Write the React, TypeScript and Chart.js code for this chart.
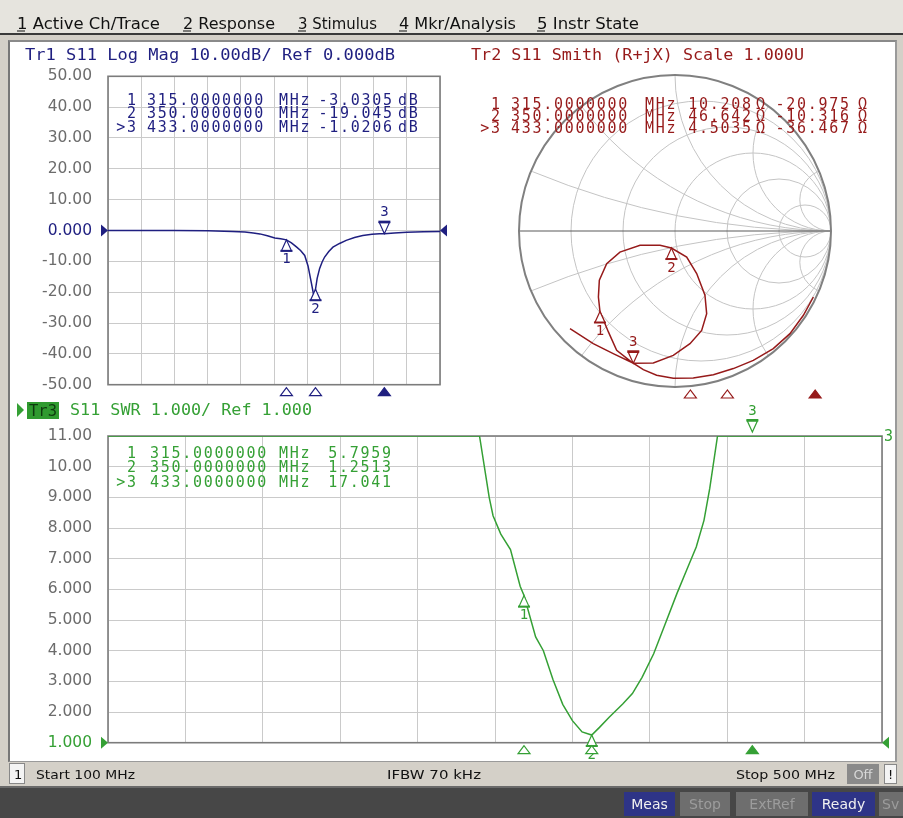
import React, { useEffect, useRef } from "react";
import { Chart, registerables } from "chart.js";

Chart.register(...registerables);

// ---------------- data ----------------
const menuItems = ["1 Active Ch/Trace", "2 Response", "3 Stimulus", "4 Mkr/Analysis", "5 Instr State"];
const markerNames = ["1", "2", ">3"];
const markerFreqs = [315, 350, 433];
const logMagMarkerValues = [-3.0305, -19.045, -1.0206];
const swrMarkerValues = [5.7959, 1.2513, 17.041];
const smithMarkerR = [10.208, 46.642, 4.5035];
const smithMarkerX = [-20.975, -10.316, -36.467];

const logMagTickLabels = ["50.00", "40.00", "30.00", "20.00", "10.00", "0.000", "-10.00", "-20.00", "-30.00", "-40.00", "-50.00"];
const swrTickLabels = ["11.00", "10.00", "9.000", "8.000", "7.000", "6.000", "5.000", "4.000", "3.000", "2.000", "1.000"];

const logMagFreqs = [100, 140, 180, 220, 250, 265, 275, 283, 292, 301, 308, 315, 321, 327, 332, 337, 341, 345, 347.5, 349, 350, 352, 355, 358, 361, 366, 371, 379, 387, 397, 407, 418, 427, 433, 445, 460, 480, 500];
const logMagValues = [0, 0, 0, -0.1, -0.3, -0.5, -0.8, -1.1, -1.7, -2.4, -2.7, -3.03, -4.0, -5.3, -6.5, -8.1, -11.5, -17.0, -20.5, -21.5, -19.05, -15.5, -12.3, -10.2, -8.6, -6.8, -5.4, -4.2, -3.2, -2.3, -1.6, -1.2, -1.05, -1.02, -0.8, -0.6, -0.4, -0.3];

const swrFreqs = [100, 150, 200, 250, 292, 297, 299, 303, 308, 313, 315, 321, 325, 330, 335, 340, 345, 350, 354, 359, 366, 371, 376, 382, 388, 394, 399, 404, 408, 411, 415, 433, 460, 500];
const swrValues = [11, 11, 11, 11, 11, 9.0, 8.4, 7.8, 7.3, 6.1, 5.8, 4.45, 4.0, 3.05, 2.25, 1.72, 1.35, 1.25, 1.5, 1.83, 2.26, 2.6, 3.13, 3.9, 4.88, 5.86, 6.62, 7.38, 8.25, 9.3, 11, 11, 11, 11];

// reflection coefficient (real, imag) of the Smith trace, in sweep order
const smithRe = [0.887, 0.823, 0.737, 0.63, 0.502, 0.374, 0.246, 0.117, -0.011, -0.118, -0.203, -0.278, -0.374, -0.427, -0.481, -0.491, -0.485, -0.438, -0.353, -0.224, -0.096, -0.023, 0.075, 0.139, 0.192, 0.203, 0.171, 0.096, -0.011, -0.139, -0.267, -0.396, -0.524, -0.673];
const smithIm = [-0.423, -0.54, -0.658, -0.754, -0.829, -0.882, -0.921, -0.942, -0.944, -0.925, -0.889, -0.84, -0.765, -0.647, -0.516, -0.423, -0.316, -0.209, -0.135, -0.092, -0.092, -0.109, -0.167, -0.273, -0.412, -0.53, -0.637, -0.722, -0.797, -0.846, -0.848, -0.786, -0.722, -0.626];

const smithResistances = [0.2, 0.5, 1, 2, 5];
const smithReactances = [0.2, 0.5, 1, 2, 5];

// ---------------- styles ----------------
const BLUE = "#1f1f80";
const RED = "#961a1a";
const GREEN = "#35a035";
const GRID = "#cacaca";
const FRAME = "#7c7c7c";
const TICK = "#6c6c6c";
const MONO = '"DejaVu Sans Mono", monospace';
const ACTIVE = 2;

function gammaOf(R: number, X: number) {
  const zr = R / 50, zi = X / 50;
  const nr = zr - 1, ni = zi, dr = zr + 1, di = zi;
  const den = dr * dr + di * di;
  return { u: (nr * dr + ni * di) / den, v: (ni * dr - nr * di) / den };
}

function tri(ctx: CanvasRenderingContext2D, x: number, y: number, up: boolean, w: number, h: number, filled: boolean, color: string) {
  ctx.beginPath();
  ctx.moveTo(x, y);
  ctx.lineTo(x - w, y + (up ? h : -h));
  ctx.lineTo(x + w, y + (up ? h : -h));
  ctx.closePath();
  ctx.fillStyle = filled ? color : "#fff";
  ctx.fill();
  ctx.strokeStyle = color;
  ctx.lineWidth = 1.2;
  ctx.stroke();
}

const framePlugin = {
  id: "frame",
  beforeDatasetsDraw(chart: any) {
    const { ctx, chartArea: a } = chart;
    ctx.save();
    ctx.strokeStyle = FRAME;
    ctx.lineWidth = 1.6;
    ctx.strokeRect(a.left, a.top, a.right - a.left, a.bottom - a.top);
    ctx.restore();
  },
};

const markerPlugin = {
  id: "vnaMarkers",
  afterDatasetsDraw(chart: any, _args: any, o: any) {
    const { ctx, chartArea: a, scales } = chart;
    ctx.save();
    ctx.font = "14px " + MONO;
    ctx.textAlign = "center";
    ctx.textBaseline = "middle";
    const ymin = scales.y.min, ymax = scales.y.max;
    o.points.forEach((p: any, i: number) => {
      const px = scales.x.getPixelForValue(p.x);
      const off = p.y > ymax ? -4 : 0;
      const py = scales.y.getPixelForValue(Math.max(ymin, Math.min(ymax, p.y))) + off;
      const active = i === ACTIVE;
      const label = String(i + 1);
      if (active) {
        tri(ctx, px, py, false, 5, 11, false, o.color);
        ctx.fillStyle = o.color;
        ctx.fillRect(px - 6, py - 13, 12, 2.5);
        ctx.fillText(label, px, py - 21);
      } else {
        tri(ctx, px, py, true, 5, 11, false, o.color);
        ctx.fillStyle = o.color;
        ctx.fillRect(px - 6, py + 10, 12, 2);
        ctx.fillText(label, px, py + 20);
      }
      const sx = o.stimX ? o.stimX(chart, p.f) : scales.x.getPixelForValue(p.f);
      tri(ctx, sx, a.bottom + 3, true, 6, 8, active, o.color);
    });
    if (o.refValue !== undefined) {
      const ry = scales.y.getPixelForValue(o.refValue);
      ctx.fillStyle = o.color;
      ctx.beginPath();
      ctx.moveTo(a.left - 7, ry - 6);
      ctx.lineTo(a.left, ry);
      ctx.lineTo(a.left - 7, ry + 6);
      ctx.closePath();
      ctx.fill();
      ctx.beginPath();
      ctx.moveTo(a.right + 7, ry - 6);
      ctx.lineTo(a.right, ry);
      ctx.lineTo(a.right + 7, ry + 6);
      ctx.closePath();
      ctx.fill();
    }
    ctx.restore();
  },
};

const smithGridPlugin = {
  id: "smithGrid",
  beforeDatasetsDraw(chart: any) {
    const { ctx, scales } = chart;
    const X = (u: number) => scales.x.getPixelForValue(u);
    const Y = (v: number) => scales.y.getPixelForValue(v);
    const cx = X(0), cy = Y(0);
    const R = X(1) - cx;
    ctx.save();
    ctx.beginPath();
    ctx.arc(cx, cy, R, 0, Math.PI * 2);
    ctx.clip();
    ctx.strokeStyle = "#c4c4c4";
    ctx.lineWidth = 1;
    smithResistances.forEach((r) => {
      ctx.beginPath();
      ctx.arc(X(r / (r + 1)), cy, R / (r + 1), 0, Math.PI * 2);
      ctx.stroke();
    });
    smithReactances.forEach((xv) => {
      [xv, -xv].forEach((s) => {
        ctx.beginPath();
        ctx.arc(X(1), Y(1 / s), R / Math.abs(s), 0, Math.PI * 2);
        ctx.stroke();
      });
    });
    ctx.restore();
    ctx.save();
    ctx.strokeStyle = "#5a5a5a";
    ctx.lineWidth = 1.2;
    ctx.beginPath();
    ctx.moveTo(cx - R, cy);
    ctx.lineTo(cx + R, cy);
    ctx.stroke();
    ctx.strokeStyle = "#808080";
    ctx.lineWidth = 2;
    ctx.beginPath();
    ctx.arc(cx, cy, R, 0, Math.PI * 2);
    ctx.stroke();
    ctx.restore();
  },
};

function rectScales(min: number, max: number, step: number, xHeight: number, labelFor: (v: number) => string, refVal: number, refColor: string) {
  return {
    x: {
      type: "linear", min: 100, max: 500,
      ticks: { display: false, stepSize: 40 },
      grid: { color: GRID, drawTicks: false, lineWidth: 1 },
      border: { display: false },
      afterFit: (s: any) => { s.height = xHeight; },
    },
    y: {
      type: "linear", min, max,
      ticks: {
        stepSize: step, padding: 16, autoSkip: false,
        font: { family: '"DejaVu Sans", sans-serif', size: 15.5 },
        color: (c: any) => (Math.abs(c.tick.value - refVal) < 1e-9 ? refColor : TICK),
        callback: (v: any) => labelFor(Number(v)),
      },
      grid: { color: GRID, drawTicks: false, lineWidth: 1 },
      border: { display: false },
      afterFit: (s: any) => { s.width = 98; },
    },
  };
}

function logMagConfig(): any {
  return {
    type: "line",
    data: {
      datasets: [{
        data: logMagFreqs.map((f, i) => ({ x: f, y: logMagValues[i] })),
        borderColor: BLUE, borderWidth: 1.5, pointRadius: 0, tension: 0,
      }],
    },
    options: {
      animation: false, responsive: false, devicePixelRatio: 1,
      layout: { padding: { top: 16, right: 15, left: 0, bottom: 0 } },
      plugins: {
        legend: { display: false }, tooltip: { enabled: false },
        vnaMarkers: {
          color: BLUE, refValue: 0,
          points: markerFreqs.map((f, i) => ({ f, x: f, y: logMagMarkerValues[i] })),
        },
      },
      scales: rectScales(-50, 50, 10, 15, (v) => logMagTickLabels[Math.round((50 - v) / 10)] ?? "", 0, BLUE),
    },
    plugins: [framePlugin, markerPlugin],
  };
}

function swrConfig(): any {
  return {
    type: "line",
    data: {
      datasets: [{
        data: swrFreqs.map((f, i) => ({ x: f, y: swrValues[i] })),
        borderColor: GREEN, borderWidth: 1.5, pointRadius: 0, tension: 0,
      }],
    },
    options: {
      animation: false, responsive: false, devicePixelRatio: 1,
      layout: { padding: { top: 38, right: 16, left: 0, bottom: 0 } },
      plugins: {
        legend: { display: false }, tooltip: { enabled: false },
        vnaMarkers: {
          color: GREEN, refValue: 1,
          points: markerFreqs.map((f, i) => ({ f, x: f, y: swrMarkerValues[i] })),
        },
      },
      scales: rectScales(1, 11, 1, 18, (v) => swrTickLabels[Math.round(11 - v)] ?? "", 1, GREEN),
    },
    plugins: [framePlugin, markerPlugin],
  };
}

function smithConfig(): any {
  return {
    type: "scatter",
    data: {
      datasets: [{
        data: smithRe.map((u, i) => ({ x: u, y: smithIm[i] })),
        showLine: true, borderColor: RED, borderWidth: 1.5, pointRadius: 0, tension: 0,
      }],
    },
    options: {
      animation: false, responsive: false, devicePixelRatio: 1,
      layout: { padding: { top: 35, bottom: 13, left: 56, right: 58 } },
      plugins: {
        legend: { display: false }, tooltip: { enabled: false },
        vnaMarkers: {
          color: RED,
          points: markerFreqs.map((f, i) => {
            const g = gammaOf(smithMarkerR[i], smithMarkerX[i]);
            return { f, x: g.u, y: g.v };
          }),
          stimX: (chart: any, f: number) => ((f - 100) / 400) * (chart.width - 3),
        },
      },
      scales: {
        x: { type: "linear", min: -1, max: 1, display: false },
        y: { type: "linear", min: -1, max: 1, display: false },
      },
    },
    plugins: [smithGridPlugin, markerPlugin],
  };
}

function ChartCanvas(props: { left: number; top: number; width: number; height: number; make: () => any }) {
  const ref = useRef<HTMLCanvasElement>(null);
  useEffect(() => {
    const chart = new Chart(ref.current as HTMLCanvasElement, props.make());
    return () => chart.destroy();
  }, []);
  return (
    <canvas
      ref={ref}
      width={props.width}
      height={props.height}
      style={{ position: "absolute", left: props.left, top: props.top, width: props.width, height: props.height }}
    />
  );
}

function Mono(p: { x: number; y: number; text: string; color: string; anchor?: string; len?: number; ls?: number }) {
  const ls = p.ls ?? 1.7;
  const anchor = p.anchor ?? "start";
  return (
    <text
      x={anchor === "end" && !p.len ? p.x + ls : p.x}
      y={p.y}
      fill={p.color}
      fontFamily={MONO}
      fontSize={15}
      dominantBaseline="central"
      textAnchor={anchor}
      letterSpacing={p.len ? undefined : ls}
      textLength={p.len}
      lengthAdjust={p.len ? "spacingAndGlyphs" : undefined}
    >
      {p.text}
    </text>
  );
}

const fmt = (v: number) => v.toPrecision(5);
const fmtF = (f: number) => f.toFixed(7);

export default function App() {
  const menuX = [17, 183, 298, 399, 537];
  const menuW = [143, 92, 79, 117, 102];
  const logRows = [100, 113, 127];
  const smithRows = [104, 116, 128];
  const swrRows = [453, 467, 482];
  return (
    <div style={{ position: "fixed", left: 0, top: 0, width: 903, height: 818, background: "#d4d0c8", overflow: "hidden" }}>
      <div style={{ position: "absolute", left: 0, top: 0, width: 903, height: 33, background: "#e6e4de" }} />
      <div style={{ position: "absolute", left: 0, top: 33, width: 903, height: 2, background: "#3a3a3a" }} />
      <div style={{ position: "absolute", left: 8, top: 40, width: 889, height: 722, background: "#fff", borderLeft: "2px solid #777", borderTop: "2px solid #8a8a8a", borderRight: "2px solid #9a9a9a", borderBottom: "1px solid #9a9a9a", boxSizing: "border-box" }} />
      <div style={{ position: "absolute", left: 0, top: 786, width: 903, height: 2, background: "#6a6a6a" }} />
      <div style={{ position: "absolute", left: 0, top: 788, width: 903, height: 30, background: "#474747" }} />

      <ChartCanvas left={10} top={51} width={445} height={359} make={logMagConfig} />
      <ChartCanvas left={463} top={40} width={426} height={360} make={smithConfig} />
      <ChartCanvas left={10} top={398} width={888} height={370} make={swrConfig} />

      <svg width={903} height={818} style={{ position: "absolute", left: 0, top: 0, pointerEvents: "none" }}>
        {/* menu */}
        {menuItems.map((m, i) => (
          <g key={m}>
            <text x={menuX[i]} y={23} fontFamily='"DejaVu Sans", sans-serif' fontSize={16} fill="#111" dominantBaseline="central" textLength={menuW[i]} lengthAdjust="spacingAndGlyphs">{m}</text>
            <line x1={menuX[i]} x2={menuX[i] + 8} y1={31} y2={31} stroke="#111" strokeWidth={1} />
          </g>
        ))}

        {/* Tr1 header + table */}
        <Mono x={25} y={55} text="Tr1 S11 Log Mag 10.00dB/ Ref 0.000dB" color={BLUE} len={370} />
        {markerNames.map((n, i) => (
          <g key={"l" + n}>
            <Mono x={136} y={logRows[i]} text={n} color={BLUE} anchor="end" />
            <Mono x={147} y={logRows[i]} text={fmtF(markerFreqs[i])} color={BLUE} />
            <Mono x={279} y={logRows[i]} text="MHz" color={BLUE} />
            <Mono x={392} y={logRows[i]} text={fmt(logMagMarkerValues[i])} color={BLUE} anchor="end" />
            <Mono x={398} y={logRows[i]} text="dB" color={BLUE} />
          </g>
        ))}

        {/* Tr2 header + table */}
        <Mono x={471} y={55} text="Tr2 S11 Smith (R+jX) Scale 1.000U" color={RED} len={333} />
        {markerNames.map((n, i) => (
          <g key={"s" + n}>
            <Mono x={500} y={smithRows[i]} text={n} color={RED} anchor="end" />
            <Mono x={511} y={smithRows[i]} text={fmtF(markerFreqs[i])} color={RED} />
            <Mono x={645} y={smithRows[i]} text="MHz" color={RED} />
            <Mono x={751} y={smithRows[i]} text={fmt(smithMarkerR[i])} color={RED} anchor="end" />
            <Mono x={756} y={smithRows[i]} text="Ω" color={RED} />
            <Mono x={849} y={smithRows[i]} text={fmt(smithMarkerX[i])} color={RED} anchor="end" />
            <Mono x={858} y={smithRows[i]} text="Ω" color={RED} />
          </g>
        ))}

        {/* Tr3 header + table */}
        <path d="M17 403 L24 410 L17 417 Z" fill={GREEN} />
        <rect x={27} y={402} width={32} height={17} fill="#2f9a2f" />
        <Mono x={29} y={410.5} text="Tr3" color="#0e3a0e" len={28} />
        <Mono x={70} y={410} text="S11 SWR 1.000/ Ref 1.000" color={GREEN} len={242} />
        {markerNames.map((n, i) => (
          <g key={"w" + n}>
            <Mono x={136} y={swrRows[i]} text={n} color={GREEN} anchor="end" />
            <Mono x={150} y={swrRows[i]} text={fmtF(markerFreqs[i])} color={GREEN} />
            <Mono x={279} y={swrRows[i]} text="MHz" color={GREEN} />
            <Mono x={391} y={swrRows[i]} text={fmt(swrMarkerValues[i])} color={GREEN} anchor="end" />
          </g>
        ))}
        <Mono x={884} y={436} text="3" color={GREEN} />

        {/* status bar */}
        <rect x={9.5} y={763.5} width={15} height={20} fill="#f4f4f4" stroke="#888" />
        <text x={14} y={774} fontFamily='"DejaVu Sans", sans-serif' fontSize={13} fill="#111" dominantBaseline="central">1</text>
        <text x={36} y={774} fontFamily='"DejaVu Sans", sans-serif' fontSize={13} fill="#111" dominantBaseline="central" textLength={99} lengthAdjust="spacingAndGlyphs">Start 100 MHz</text>
        <text x={387} y={774} fontFamily='"DejaVu Sans", sans-serif' fontSize={13} fill="#111" dominantBaseline="central" textLength={94} lengthAdjust="spacingAndGlyphs">IFBW 70 kHz</text>
        <text x={736} y={774} fontFamily='"DejaVu Sans", sans-serif' fontSize={13} fill="#111" dominantBaseline="central" textLength={99} lengthAdjust="spacingAndGlyphs">Stop 500 MHz</text>
        <rect x={847} y={764} width={32} height={20} fill="#8a8a8a" />
        <text x={863} y={774} fontFamily='"DejaVu Sans", sans-serif' fontSize={13} fill="#d8d8d8" dominantBaseline="central" textAnchor="middle">Off</text>
        <rect x={884.5} y={764.5} width={12} height={19} fill="#f4f4f4" stroke="#888" />
        <text x={890.5} y={774} fontFamily='"DejaVu Sans", sans-serif' fontSize={13} fill="#111" dominantBaseline="central" textAnchor="middle">!</text>

        {/* bottom bar */}
        <rect x={624} y={792} width={51} height={24} fill="#2e3487" />
        <text x={649.5} y={804} fontFamily='"DejaVu Sans", sans-serif' fontSize={14} fill="#f0f0f0" dominantBaseline="central" textAnchor="middle">Meas</text>
        <rect x={680} y={792} width={50} height={24} fill="#6e6e6e" />
        <text x={705} y={804} fontFamily='"DejaVu Sans", sans-serif' fontSize={14} fill="#9c9c9c" dominantBaseline="central" textAnchor="middle">Stop</text>
        <rect x={736} y={792} width={72} height={24} fill="#6e6e6e" />
        <text x={772} y={804} fontFamily='"DejaVu Sans", sans-serif' fontSize={14} fill="#9c9c9c" dominantBaseline="central" textAnchor="middle">ExtRef</text>
        <rect x={812} y={792} width={63} height={24} fill="#2e3487" />
        <text x={843.5} y={804} fontFamily='"DejaVu Sans", sans-serif' fontSize={14} fill="#f0f0f0" dominantBaseline="central" textAnchor="middle">Ready</text>
        <rect x={879} y={792} width={30} height={24} fill="#6e6e6e" />
        <text x={882} y={804} fontFamily='"DejaVu Sans", sans-serif' fontSize={14} fill="#9c9c9c" dominantBaseline="central">Sv</text>
      </svg>
    </div>
  );
}
